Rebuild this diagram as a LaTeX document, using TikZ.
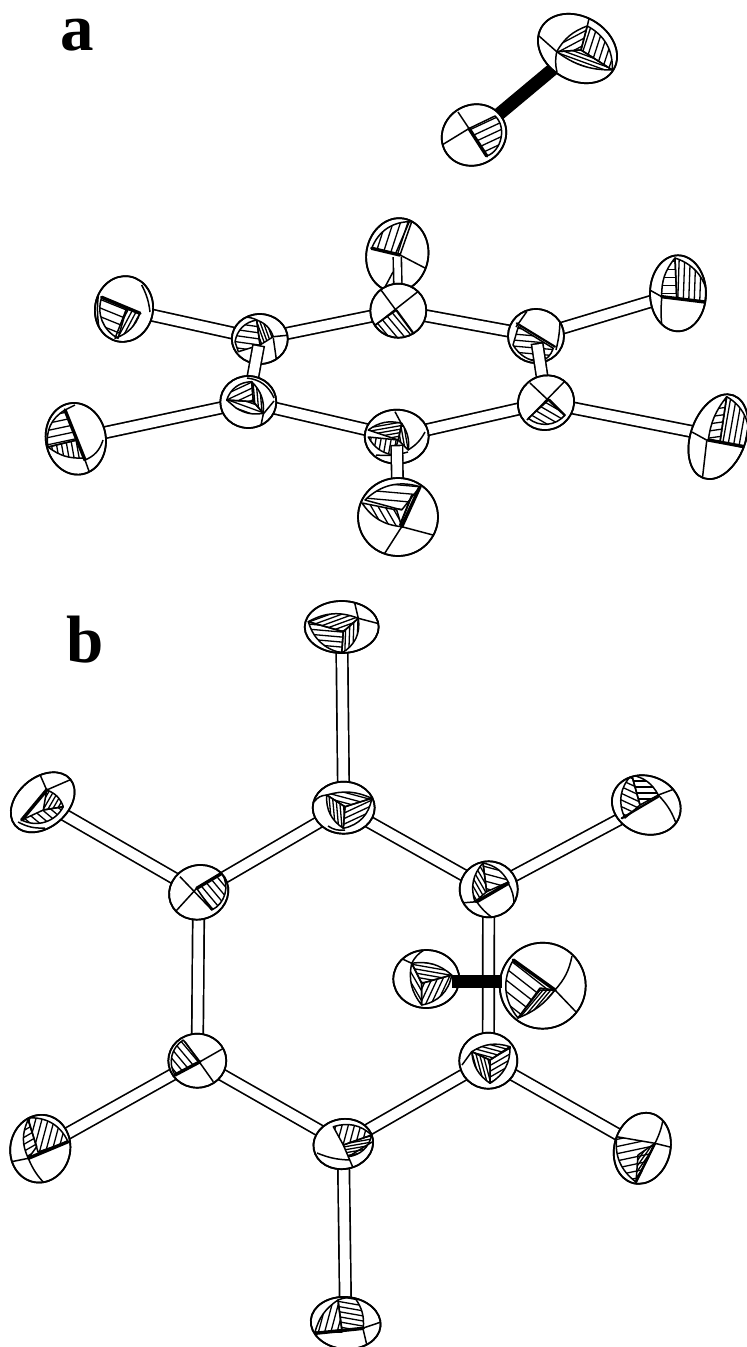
\documentclass[tikz,border=0pt]{standalone}
\usepackage{fontspec}
\setmainfont{Liberation Serif}
\usetikzlibrary{shapes.geometric}
\tikzset{
  atomshape/.style={ellipse,draw=black,fill=white,line width=1.7pt,inner sep=0pt,outer sep=0pt},
  hatchln/.style={line width=1.3pt,black},
  edgeln/.style={line width=1.5pt,black,line join=round},
  gc/.style={line width=1.5pt,black},
  bold/.style={line width=3.4pt,black,line cap=round},
  bondln/.style={draw=black,line width=1.7pt,double=white,double distance=9.8pt},
  thinbond/.style={draw=black,line width=1.6pt,double=white,double distance=6.5pt},
  blackbond/.style={draw=black,line width=13pt},
  panellabel/.style={font=\bfseries\fontsize{67}{67}\selectfont,inner sep=0pt,anchor=base west}
}
\newcommand{\hr}[3]{%
  \begin{scope}\clip #1;
    \begin{scope}[shift={(\curatom)},rotate=#2]
      \foreach \k in {-18,...,18}{\draw[hatchln] (-70pt,{\k*#3*1pt}) -- (70pt,{\k*#3*1pt});}
    \end{scope}
  \end{scope}
  \draw[edgeln] #1;}
\newcommand{\orb}[5]{% name a b rot body
  \def\curatom{#1}%
  \node[atomshape,minimum width=#2*2pt,minimum height=#3*2pt,rotate=#4] (#1n) at (#1) {};
  \begin{scope}
    \clip[shift={(#1)},rotate=#4] (0pt,0pt) ellipse [x radius=#2pt,y radius=#3pt];
    #5
  \end{scope}
  \draw[line width=1.7pt,shift={(#1)},rotate=#4] (0pt,0pt) ellipse [x radius=#2pt,y radius=#3pt];}
\newcommand{\fbond}[3]{% front bond: closed end at #1
  \draw[line width=13pt,shorten <=#3pt] (#1.center) -- (#2.center);
  \draw[line width=9.8pt,white,shorten <={#3pt+1.6pt}] (#1.center) -- (#2.center);}
\begin{document}
\begin{tikzpicture}[x=1pt,y=-1pt]
\useasboundingbox (0,0) rectangle (747,1347);
% ---- coordinates
\coordinate (coO) at (577.5,48.5);
\coordinate (coC) at (474,135);
\coordinate (aF1) at (124,309);
\coordinate (aC1) at (259.8,339);
\coordinate (aC2) at (248.3,402);
\coordinate (aF2) at (75.8,438.8);
\coordinate (aC3) at (398.3,310.7);
\coordinate (aF3) at (397.3,255);
\coordinate (aC4) at (536,336);
\coordinate (aC5) at (546,402.7);
\coordinate (aF4) at (718.3,436.7);
\coordinate (aF5) at (678,293.3);
\coordinate (aC6) at (396.7,436.7);
\coordinate (aF6) at (398,517);
\coordinate (bFt) at (341.7,627);
\coordinate (bCt) at (343.7,807.7);
\coordinate (bFul) at (42.7,802.3);
\coordinate (bCul) at (198.7,892.3);
\coordinate (bCll) at (197.3,1060.7);
\coordinate (bFll) at (40.3,1148.7);
\coordinate (bCb) at (343.3,1144);
\coordinate (bFb) at (345.7,1323);
\coordinate (bCur) at (488.7,889.3);
\coordinate (bFur) at (646.3,805);
\coordinate (bClr) at (488.3,1060.7);
\coordinate (bFlr) at (642.3,1148.3);
\coordinate (bXc) at (426.3,979);
\coordinate (bXo) at (542.7,985.7);
\coordinate (bXcEnd) at (452,981.5);
\coordinate (bXoEnd) at (502,981.5);
% ---- labels
\node[panellabel] (la) at (60,50) {a};
\node[panellabel] (lb) at (66,662) {b};
% ---- CO in panel a
\draw[blackbond] (coC) -- (coO);
\orb{coO}{41.8}{32}{-30}{
  \hr{(556.7,51.7) to[bend left=20] (587.3,26) -- (581,50) -- cycle}{28}{6}
  \hr{(587.3,26) to[bend left=32] (612.3,70) -- (581,50) -- cycle}{72}{6}
  \hr{(612.3,70) to[bend left=18] (556.7,51.7) -- (581,50) -- cycle}{-20}{3.6}
  \draw[gc] (539,36) -- (556.7,51.7);
  \draw[gc] (556.7,52) to[bend right=12] (557,72);
  \draw[gc] (587.3,26) -- (590,14);
  \draw[gc] (612.3,70) -- (618,72);
}
\orb{coC}{33}{30}{30}{
  \hr{(469,128.5) -- (495,116) to[bend left=60] (486.7,156) -- cycle}{25}{6.5}
  \draw[gc] (458,112) -- (469,128.5);
  \draw[gc] (442,145) -- (469,128.5);
  \draw[bold] (469,128.5) -- (486.7,156);
}
% ---- panel a ring
\draw[bondln] (aF1) -- (aC1);
\draw[bondln] (aC1) -- (aC3);
\draw[bondln] (aC3) -- (aC4);
\draw[bondln] (aC4) -- (aF5);
\draw[bondln] (aC5) -- (aF4);
\draw[bondln] (aC5) -- (aC6);
\draw[bondln] (aC6) -- (aC2);
\draw[bondln] (aC2) -- (aF2);
\orb{aF1}{33}{29}{80}{
  \hr{(101.7,297.3) -- (126.7,308.3) -- (118,338.3) to[bend left=40] (101.7,297.3) -- cycle}{-22}{8}
  \hr{(126.7,308.3) -- (140,313.3) to[bend left=25] (115,338.3) -- cycle}{62}{4}
  \draw[bold] (101.7,297.3) -- (140,313.3);
  \draw[gc] (141.7,285) to[bend left=10] (150,312);
  \draw[gc] (99,290) to[bend right=8] (99,328);
}
\orb{aF2}{36}{30}{100}{
  \hr{(65,410) -- (77,440) -- (48,447) to[bend left=35] (65,410) -- cycle}{12}{7}
  \hr{(48,447) -- (77,440) -- (84,458) to[bend left=20] (48,447) -- cycle}{100}{5}
  \draw[bold] (65,410) -- (85,460);
  \draw[gc] (85,460) to[bend right=25] (103,440);
  \draw[gc] (85,460) -- (90,474);
  \draw[gc] (65,410) -- (75,405);
}
\orb{aF3}{37}{31}{80}{
  \hr{(371.7,248.3) -- (400,255) -- (411.7,221.7) to[bend right=35] (371.7,248.3) -- cycle}{72}{7}
  \draw[bold] (371.7,248.3) -- (400,255);
  \draw[gc] (400,255) -- (425,268);
  \draw[gc] (393,272) -- (385,287);
  \draw[gc] (395,255) -- (410,220);
}
\draw[thinbond] (aF3) ++(0,2) -- (aC3);
\orb{aF5}{38}{28}{90}{
  \hr{(661.7,296.7) to[bend left=20] (675,258) -- (676.7,298.3) -- cycle}{0}{8}
  \hr{(675,258) to[bend left=35] (708,302) -- (676.7,298.3) -- cycle}{88}{5.5}
  \draw[bold] (661.7,296.7) -- (705,302);
  \draw[gc] (648,289) -- (661.7,296.7);
  \draw[gc] (661.7,298) to[bend right=5] (662,328);
}
\orb{aF4}{44}{27.5}{70}{
  \hr{(708.3,440) to[bend left=15] (726.7,396.7) -- (720,442) -- cycle}{8}{7}
  \hr{(726.7,396.7) to[bend left=40] (746,448) -- (720,442) -- cycle}{80}{5.5}
  \draw[bold] (708.3,440) -- (746,447);
  \draw[gc] (706.7,441) -- (702,482);
  \draw[gc] (692,432) -- (708.3,441);
}
\orb{aC3}{28}{27}{0}{
  \hr{(396.7,310) -- (375,325) to[bend right=45] (415,335) -- cycle}{-50}{6}
  \draw[gc] (381,290) -- (415,336);
  \draw[gc] (373,327) -- (420,290);
}
\orb{aC1}{28}{25}{0}{
  \hr{(235,341.7) to[bend left=35] (256.7,320) -- (260,345) -- (238.3,351.7) -- cycle}{-8}{6}
  \hr{(256.7,320) to[bend left=25] (273.3,336.7) -- (260,345) -- cycle}{110}{3}
  \draw[gc] (273.3,336.7) -- (290,335);
  \draw[gc] (273.3,338) -- (277,364);
  \draw[gc] (245,317) to[bend left=10] (257,320);
}
\fbond{aC1}{aC2}{6}
\orb{aC4}{28}{27}{0}{
  \hr{(518.3,326.7) -- (553.3,348.3) to[bend left=25] (540,362) to[bend left=25] (513,345) -- cycle}{-5}{6}
  \draw[bold,line width=2.2pt] (516.7,323.3) -- (555,346.7);
  \draw[gc] (526.7,311.7) -- (516,327);
  \draw[gc] (560,320) to[bend left=6] (556,350);
}
\fbond{aC4}{aC5}{7}
\orb{aC2}{28}{26}{0}{
  \hr{(226.7,400) to[bend left=35] (251.7,381.7) -- (253.3,401.7) -- cycle}{25}{5.5}
  \hr{(251.7,381.7) to[bend left=25] (263.3,413.3) -- (253.3,401.7) -- cycle}{95}{3.2}
  \hr{(226.7,400) -- (253.3,401.7) -- (263.3,413.3) to[bend left=20] (236,408) -- cycle}{-20}{5}
  \draw[gc] (263.3,414) -- (274,401);
  \draw[gc] (263.3,414) -- (260,430);
  \draw[gc] (247,378) to[bend left=30] (274,398);
}
\orb{aC5}{28.5}{27}{30}{
  \hr{(549.3,399.3) -- (528.3,418.3) to[bend right=45] (565,415) -- cycle}{-30}{6}
  \draw[gc] (530,383) -- (565,416);
  \draw[gc] (565,381) -- (527,420);
}
\orb{aC6}{32}{27}{0}{
  \hr{(368.3,430) to[bend left=25] (401.7,423.3) -- (398.3,440) -- cycle}{10}{3.4}
  \hr{(368.3,437) -- (398.3,440) -- (393,455) to[bend left=25] (368.3,437) -- cycle}{80}{5}
  \hr{(401.7,423.3) to[bend left=20] (408.3,450) -- (398.3,440) -- cycle}{100}{3}
  \draw[gc] (395,411.7) -- (403,426.7);
  \draw[gc] (376,455) to[bend right=10] (408,452);
  \draw[gc] (408,450) to[bend right=15] (425,432);
}
\fbond{aC6}{aF6}{8}
\orb{aF6}{40}{39}{0}{
  \hr{(365,500) to[bend left=30] (420,486.7) -- (401.7,510) -- cycle}{-5}{8}
  \hr{(362,503) -- (396.7,510) -- (401.7,526.7) to[bend left=25] (362,503) -- cycle}{120}{6}
  \draw[bold] (420,486.7) -- (401.7,526.7);
  \draw[bold,line width=2pt] (412,495) -- (400,525);
  \draw[gc] (401.7,526.7) -- (383,556);
  \draw[gc] (401.7,526.7) -- (433,535);
}
% ---- panel b ring
\draw[bondln] (bFt) -- (bCt);
\draw[bondln] (bCt) -- (bCul);
\draw[bondln] (bCul) -- (bFul);
\draw[bondln] (bCul) -- (bCll);
\draw[bondln] (bCll) -- (bFll);
\draw[bondln] (bCll) -- (bCb);
\draw[bondln] (bCb) -- (bFb);
\draw[bondln] (bCb) -- (bClr);
\draw[bondln] (bClr) -- (bFlr);
\draw[bondln] (bClr) -- (bCur);
\draw[bondln] (bCur) -- (bFur);
\draw[bondln] (bCur) -- (bCt);
\orb{bFt}{37}{26}{0}{
  \hr{(308.3,621.7) to[bend left=25] (358.3,618.3) -- (343.3,631.7) -- cycle}{20}{4}
  \hr{(308.3,621.7) -- (343.3,631.7) -- (341.7,653) to[bend left=30] (308.3,621.7) -- cycle}{-5}{5}
  \hr{(343.3,631.7) -- (358.3,618.3) to[bend left=35] (341.7,653) -- cycle}{88}{4}
  \draw[gc] (358.3,618.3) -- (380,624);
  \draw[gc] (358.3,618.3) -- (354,600);
}
\orb{bCt}{31}{26}{0}{
  \hr{(326.7,795) to[bend left=20] (371.7,798.3) -- (345,806.7) -- cycle}{-15}{5}
  \hr{(326.7,795) -- (345,806.7) -- (343.3,828.3) to[bend left=30] (326.7,795) -- cycle}{95}{3.4}
  \hr{(345,806.7) -- (371.7,798.3) to[bend left=35] (343.3,828.3) -- cycle}{25}{5}
  \draw[gc] (314,802) to[bend left=25] (326.7,795);
  \draw[gc] (328,826) to[bend right=20] (345,830);
}
\orb{bFul}{36}{25}{40}{
  \hr{(46.7,790) to[bend left=25] (63.3,806.7) -- (43.3,810) -- cycle}{60}{4}
  \hr{(21.7,820) -- (43.3,810) -- (63.3,806.7) to[bend left=45] (21.7,820) -- cycle}{-40}{6}
  \draw[bold] (21.7,820) -- (46.7,790);
  \draw[gc] (46.7,790) -- (72,779);
  \draw[gc] (46.7,790) -- (38,770);
  \draw[gc] (18,822) to[bend right=15] (45,828);
}
\orb{bCul}{30}{27}{20}{
  \hr{(196.7,888.3) -- (221.7,873.3) to[bend left=50] (211.7,910) -- cycle}{-50}{6}
  \draw[bold] (196.7,888.3) -- (221.7,873.3);
  \draw[gc] (176,911) -- (196.7,888.3);
  \draw[gc] (180,876.7) -- (212,910);
}
\orb{bCll}{29}{27}{0}{
  \hr{(200,1061.7) -- (175,1075) to[bend left=45] (183.3,1040) -- cycle}{-50}{6}
  \draw[bold] (175,1075) -- (200,1061.7);
  \draw[gc] (200,1061.7) -- (224,1048);
  \draw[gc] (185,1041.7) -- (213.3,1081.7);
}
\orb{bFll}{34}{30}{80}{
  \hr{(38,1152) -- (28,1118) to[bend left=35] (68,1141.7) -- cycle}{75}{6}
  \hr{(28,1120) -- (36.7,1146.7) -- (28.3,1158.3) to[bend left=25] (28,1120) -- cycle}{30}{6}
  \draw[bold] (28.3,1158.3) -- (68,1141.7);
  \draw[gc] (28.3,1158.3) -- (10,1162);
  \draw[gc] (28.3,1158.3) to[bend right=10] (45,1184);
}
\orb{bCb}{30}{25}{10}{
  \hr{(333.3,1126.7) to[bend left=30] (371.7,1135) -- (343.3,1145) -- cycle}{75}{6}
  \hr{(343.3,1145) -- (371.7,1135) to[bend left=35] (348.3,1156.7) -- cycle}{10}{3}
  \draw[gc] (348.3,1156.7) -- (354,1170);
  \draw[gc] (317,1153) to[bend right=10] (350,1160);
  \draw[gc] (348.3,1156.7) -- (372,1142);
}
\orb{bFb}{35}{26}{-5}{
  \hr{(315,1332) to[bend left=20] (338,1300) -- (342,1332) -- cycle}{75}{6}
  \hr{(338,1300) to[bend left=15] (355,1298) to[bend left=20] (363.3,1328.3) -- (342,1330) -- cycle}{-10}{5}
  \draw[bold] (315,1333.3) -- (363.3,1328.3);
  \draw[gc] (363.3,1328) -- (381,1322);
  \draw[gc] (363.3,1330) -- (368,1350);
}
\orb{bCur}{29}{28}{0}{
  \hr{(475,901.7) to[bend left=30] (483,863) -- (486.7,891.7) -- cycle}{-60}{4}
  \hr{(483,863) to[bend left=25] (508.3,882) -- (486.7,891.7) -- cycle}{-15}{7}
  \draw[bold] (476.7,901.7) -- (508.3,883.3);
  \draw[gc] (476.7,901.7) -- (461,903);
  \draw[gc] (476.7,901.7) to[bend right=10] (493,918);
  \draw[gc] (508,883) to[bend left=15] (514,905);
}
\orb{bFur}{35}{29}{-20}{
  \hr{(625,818) to[bend left=35] (631.7,775) -- (640,805) -- cycle}{-25}{6}
  \hr{(631.7,775) to[bend left=25] (658.3,795) -- (640,805) -- cycle}{0}{6}
  \draw[bold,line width=2.2pt] (621.7,818.3) -- (658.3,796.7);
  \draw[gc] (658.3,795) -- (677,788);
  \draw[gc] (658.3,795) to[bend left=12] (677,826);
}
\orb{bClr}{29}{28}{0}{
  \hr{(471.7,1051.7) to[bend left=25] (510,1046.7) -- (490,1060) -- cycle}{-15}{4}
  \hr{(471.7,1051.7) -- (490,1060) -- (490,1083.3) to[bend left=25] (471.7,1051.7) -- cycle}{105}{3.4}
  \hr{(490,1060) -- (510,1046.7) to[bend left=30] (490,1083.3) -- cycle}{30}{5}
  \draw[gc] (471.7,1051.7) -- (462,1065);
}
\orb{bFlr}{36}{28}{75}{
  \hr{(616.7,1136.7) -- (655,1143.3) -- (636,1182) to[bend left=30] (616.7,1136.7) -- cycle}{12}{7}
  \hr{(655,1143.3) -- (636,1182) -- (638,1155) -- cycle}{55}{3}
  \draw[bold,line width=2.4pt] (655,1143.3) -- (636,1182);
  \draw[gc] (655,1143.3) -- (674,1148);
  \draw[gc] (655,1143.3) to[bend right=10] (664,1112);
}
% ---- small molecule in panel b, in front of the C--C bond
\orb{bXc}{33}{29}{0}{
  \hr{(411.7,963.3) to[bend left=25] (451.7,975) -- (421.7,983.3) -- cycle}{-10}{4}
  \hr{(411.7,963.3) -- (421.7,983.3) -- (421.7,1005) to[bend left=25] (411.7,963.3) -- cycle}{-60}{5}
  \hr{(421.7,983.3) -- (451.7,975) to[bend left=35] (421.7,1005) -- cycle}{65}{5}
  \draw[gc] (411.7,963.3) -- (396,956);
  \draw[gc] (411.7,963.3) to[bend left=15] (424,950);
}
\orb{bXo}{43}{43}{0}{
  \hr{(513.3,960) -- (555,990) -- (540,990) -- (518,1018) to[bend left=35] (513.3,960) -- cycle}{-38}{9}
  \hr{(540,988) -- (555,990) to[bend left=15] (518,1018) -- cycle}{50}{3}
  \draw[bold] (513.3,960) -- (555,990);
  \draw[gc] (555,990) -- (578,1014);
  \draw[gc] (555,990) to[bend right=15] (572,956);
}
\draw[blackbond] (bXcEnd) -- (bXoEnd);
\end{tikzpicture}
\end{document}
